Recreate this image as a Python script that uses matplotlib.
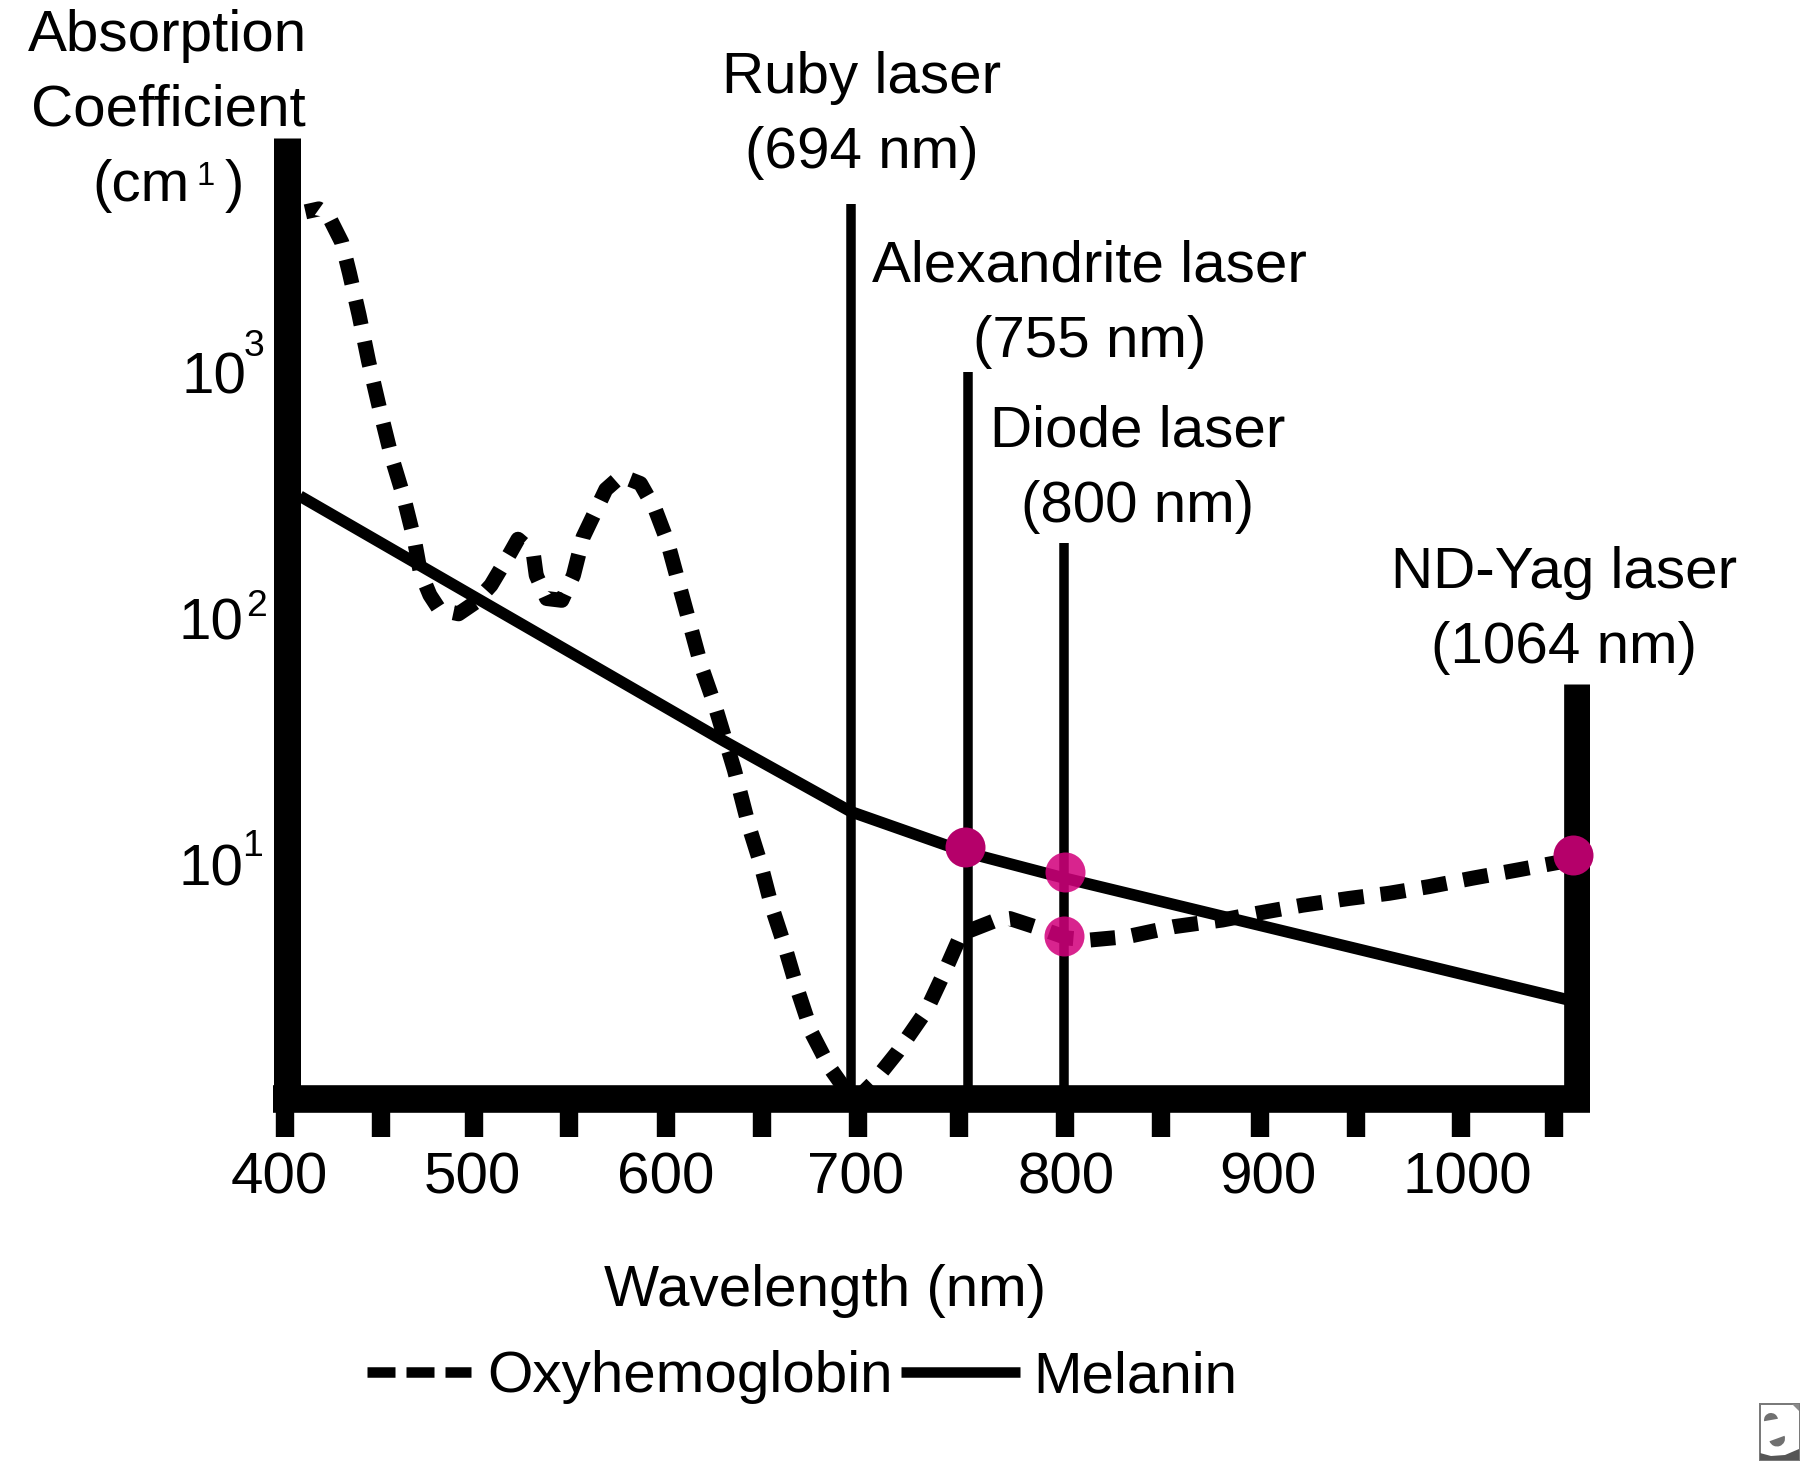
import matplotlib
matplotlib.use("Agg")
import matplotlib.pyplot as plt
from matplotlib.lines import Line2D
from matplotlib.patches import Rectangle, Wedge, Polygon
from matplotlib.transforms import ScaledTranslation

plt.rcParams['font.family'] = ['Liberation Sans', 'DejaVu Sans']
plt.rcParams['lines.scale_dashes'] = False

# ---- data ----
oxy_nm = [410.4, 417.2, 422.1, 428.9, 432.8, 437.7, 442.5, 448.4, 454.2, 460.1, 465.9, 468.8,
          473.7, 478.6, 488.3, 497.0, 504.8, 514.6, 518.5, 526.2, 527.8, 533.1, 540.8, 546.7,
          551.6, 563.2, 571.0, 580.8, 588.5, 594.4, 600.2, 606.1, 611.9, 618.7, 628.6, 636.0,
          641.8, 647.6, 654.3, 660.7, 668.0, 676.8, 684.1, 688.4, 698.7, 711.8, 726.4, 735.2,
          744.0, 761.5, 768.7, 786.3, 798.0, 809.6, 828.6, 852.0, 876.8, 894.4, 917.6, 941.0,
          961.5, 981.9, 1003.8, 1027.1, 1049.0]
oxy_abs = [4477, 4603, 4315, 3365, 2524, 1702, 1107, 695, 452, 316, 206, 154,
           124, 108, 104, 116, 136, 184, 209, 185, 149, 120, 118, 149,
           213, 333, 378, 352, 274, 206, 139, 93.4, 63, 44, 24.1, 14.2,
           10.1, 6.7, 4.6, 3.08, 2.05, 1.5, 1.24, 1.06, 1.28, 1.73, 2.55, 3.6,
           5.2, 5.9, 6.0, 5.4, 5.0, 4.91, 5.07, 5.56, 5.92, 6.3, 6.8, 7.24,
           7.6, 8.09, 8.75, 9.46, 10.2]
mel_nm = [407.6, 623.3, 688.0, 747.4, 796.3, 1050.6, 1057.0]
mel_abs = [313, 31.6, 16.3, 11.1, 8.77, 2.83, 2.75]

laser_nm = [687.7, 747.2, 796.1, 1057.0]
laser_top = [4820, 1000, 202, 54]
laser_w_px = [9.5, 9.5, 9.5, 26.7]
laser_names = [['Ruby laser', '(694 nm)'], ['Alexandrite laser', '(755 nm)'],
               ['Diode laser', '(800 nm)'], ['ND-Yag laser', '(1064 nm)']]

dot_nm_solid = [746.1, 1054.9]
dot_abs_solid = [11.76, 10.9]
dot_nm_soft = [796.9, 796.0]
dot_abs_soft = [9.3, 5.1]

tick_nm = [400, 448.7, 495.9, 544.7, 593.7, 642.6, 691.6, 743.0, 796.7, 845.6, 895.9, 944.8, 998.2, 1045.5]
tick_text = ['400', '', '500', '', '600', '', '700', '', '800', '', '900', '', '1000', '']
tick_shift_px = [-5.5, 0, -1, 0, 0, 0, -3, 0, 1, 0, 8, 0, 6, 0]
y_ticks = [10, 100, 1000]
y_text = ['10', '10', '10']
y_shift_px = [0, 0, 3]
y_exp = ['1', '2', '3']

W, H = 1800, 1464
PT = 0.72  # points per pixel at dpi 100
FS = 42

fig = plt.figure(figsize=(W / 100, H / 100), dpi=100, facecolor='white')
L, R, T, B = 273, 1590, 138, 1086
ax = fig.add_axes([L / W, 1 - B / H, (R - L) / W, (B - T) / H])
ax.set_yscale('log')
ax.set_xlim(393.9, 1063.8)
ax.set_ylim(10 ** (1 + (864 - B) / 246), 10 ** (1 + (864 - T) / 246))

for s in ('top', 'right'):
    ax.spines[s].set_visible(False)
ax.spines['left'].set_linewidth(27 * PT)
ax.spines['left'].set_capstyle('butt')
ax.spines['left'].set_position(('outward', -13.5 * PT))
ax.spines['bottom'].set_linewidth(27.6 * PT)
ax.spines['bottom'].set_capstyle('butt')
ax.spines['bottom'].set_position(('outward', 13 * PT))

ax.set_xticks(tick_nm, labels=tick_text)
ax.tick_params(axis='x', length=37.7 * PT, width=18.4 * PT, pad=10.5, labelsize=FS)
ax.set_yticks(y_ticks, labels=y_text)
ax.tick_params(axis='y', length=0, pad=31, labelsize=FS)
ax.minorticks_off()
for lab, dx in zip(ax.get_xticklabels(), tick_shift_px):
    lab.set_transform(lab.get_transform() + ScaledTranslation(dx / 100, 0, fig.dpi_scale_trans))
for lab, dx in zip(ax.get_yticklabels(), y_shift_px):
    lab.set_transform(lab.get_transform() + ScaledTranslation(dx / 100, 0, fig.dpi_scale_trans))

ax.plot(oxy_nm, oxy_abs, color='black', lw=15 * PT, ls=(11 * PT, (25 * PT, 17 * PT)),
        dash_capstyle='butt', dash_joinstyle='round', zorder=2)
ax.plot(mel_nm, mel_abs, color='black', lw=11.5 * PT, solid_capstyle='butt', zorder=2)
bottom = ax.get_ylim()[0]
for x, top, w in zip(laser_nm, laser_top, laser_w_px):
    ax.vlines(x, bottom, top, color='black', lw=w * PT, zorder=2.2)

ms = 40 * PT
ax.plot(dot_nm_solid, dot_abs_solid, ls='none', marker='o', ms=ms, mec='none',
        color='#B5006A', zorder=5, clip_on=False)
ax.plot(dot_nm_soft, dot_abs_soft, ls='none', marker='o', ms=ms, mec='none',
        color='#D2007C', alpha=0.86, zorder=5, clip_on=False)


def ptext(x, y, s, **kw):
    kw.setdefault('fontsize', FS)
    kw.setdefault('ha', 'center')
    kw.setdefault('va', 'baseline')
    fig.text(x / W, 1 - y / H, s, **kw)


ptext(307, 51, 'Absorption', ha='right')
ptext(306, 126, 'Coefficient', ha='right')
ptext(141, 201, '(cm')
ptext(206, 185, '1', fontsize=FS * 0.56)
ptext(234, 201, ')')

for e, ex, ey in zip(y_exp, [253, 257, 254], [856, 616, 356]):
    ptext(ex, ey, e, fontsize=FS * 0.64)

lines_at = [(862, 92.7, 167.7), (1089.3, 281.7, 356.7), (1138, 446.7, 521.7), (1564, 587.7, 663.3)]
for (cx, y1, y2), (a, b) in zip(lines_at, laser_names):
    ptext(cx, y1, a)
    ptext(cx, y2, b)
ptext(825, 1306, 'Wavelength (nm)')

oxy_key = Line2D([], [], color='black', lw=10.5 * PT, ls=(0, (28 * PT, 11 * PT)), dash_capstyle='butt')
mel_key = Line2D([], [], color='black', lw=10.5 * PT, solid_capstyle='butt')
for handle, name, x0, hlen, pad in [(oxy_key, 'Oxyhemoglobin', 367, 1.775, 0.29),
                                    (mel_key, 'Melanin', 901, 2.04, 0.22)]:
    fig.legend(handles=[handle], labels=[name], frameon=False, fontsize=FS, loc='center left',
               bbox_to_anchor=(x0 / W, 1 - 1377.5 / H), handlelength=hlen, handletextpad=pad,
               borderpad=0, borderaxespad=0)

# small publisher mark, bottom right corner
lg = fig.add_axes([1759 / W, 1 - 1461 / H, 41 / W, 58 / H])
lg.set_xlim(0, 41)
lg.set_ylim(58, 0)
lg.axis('off')
lg.add_patch(Rectangle((0.5, 0.5), 40, 57, fc='white', ec='#7a7a7a', lw=2 * PT))
lg.add_patch(Polygon([[1, 50], [12, 53], [26, 52], [40, 46], [40, 57], [1, 57]], fc='#555555', ec='none'))
lg.add_patch(Polygon([[33, 1], [40, 1], [40, 8]], fc='#8a8a8a', ec='none'))
lg.add_patch(Wedge((12, 17), 7, 170, 350, fc='#707070', ec='none'))
lg.add_patch(Wedge((18, 35.5), 8, -20, 160, fc='#707070', ec='none'))

fig.savefig('out.png', dpi=100, facecolor='white')
